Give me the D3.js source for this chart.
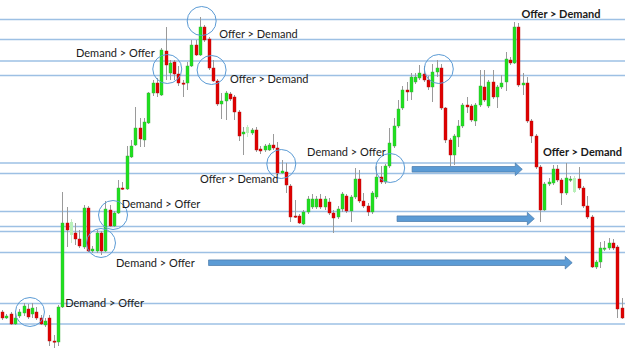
<!DOCTYPE html>
<html>
<head>
<meta charset="utf-8">
<script src="https://cdn.jsdelivr.net/npm/d3@7"></script>
<style>
  body { margin: 0; background: #fff; }
  svg { display: block; }
</style>
</head>
<body>
<svg id="chart" width="625" height="352"></svg>
<script>
// prices in pips above the chart floor
const opens = [
  40,34,38,28,36,39,43,38,40,34, 27,34,11,10,45,129,117,119,113,105,
  144,101,101,119,101,142,126,139,164,163, 195,207,224,212,229,259,269,257,301,279,
  290,278,269,269,286,307,297,325,313,284, 271,248,251,258,255,240,218,219,219,222,
  203,202,202,207,204,179,180,166,136,136, 128,140,145,145,153,145,150,139,135,143,
  156,141,155,173,151,146,140,155,175,170, 186,206,226,244,262,260,270,274,278,272,
  265,280,284,244,212,197,215,226,247,246, 231,247,265,246,270,255,265,270,292,289,
  325,267,269,231,216,185,142,168,169,183, 172,159,172,160,173,164,146,135,85,90,
  103,104,109,105,44
];
const highs = [
  42,38,40,39,43,49,48,49,45,37, 34,37,17,47,160,145,133,129,122,147,
  146,106,122,121,151,147,141,172,170,206, 212,245,234,234,260,272,274,304,325,292,
  292,286,272,290,312,312,335,327,315,292, 273,259,261,260,257,242,225,227,224,225,
  206,208,209,218,210,192,189,168,152,138, 142,156,158,156,158,156,154,142,146,160,
  158,157,184,182,159,149,161,186,186,188, 224,234,252,266,270,279,279,287,286,276,
  288,292,288,245,214,218,232,249,255,248, 249,282,282,272,282,267,277,300,295,330,
  329,279,275,233,218,187,170,174,187,187, 174,189,176,176,185,166,156,137,92,110,
  111,114,113,107,54
];
const lows = [
  32,33,27,27,34,36,33,34,32,27, 25,6,4,6,44,105,109,107,104,103,
  100,99,99,97,100,125,125,138,162,162, 194,206,205,205,228,256,255,256,272,272,
  272,266,255,262,285,296,296,310,282,270, 246,233,232,251,232,211,197,215,217,200,
  198,200,201,202,177,178,159,130,134,128, 127,138,143,143,143,142,137,119,133,140,
  139,130,153,149,144,136,138,153,168,168, 184,204,224,242,251,252,268,272,270,262,
  250,275,242,209,186,187,205,224,239,230, 226,245,250,244,253,244,263,261,287,288,
  265,257,229,209,183,130,141,166,167,170, 147,157,170,159,162,144,133,84,83,84,
  101,102,102,34,33
];
const closes = [
  34,36,28,34,40,46,35,44,34,28, 31,11,10,45,129,122,130,113,106,144,
  101,103,119,101,143,126,139,164,163,196, 206,224,213,230,259,269,259,302,287,289,
  278,269,268,286,307,297,325,312,284,271, 248,251,259,253,240,216,220,225,222,202,
  201,206,207,204,179,181,167,135,135,129, 140,153,153,153,145,153,139,134,143,158,
  141,155,173,151,146,140,159,175,170,186, 209,226,243,262,260,275,275,279,272,265,
  280,284,244,212,197,216,226,247,245,232, 247,266,252,270,255,265,269,293,289,325,
  267,269,231,216,185,142,168,170,183,172, 159,174,173,174,164,146,135,85,90,104,
  104,109,104,43,34
];
const faded = [16, 57, 133];

const levels = [332.5, 312.5, 291, 276.5, 189, 178.5, 140.5, 125.5, 120.5, 99.5, 48.5, 28];

const circleIdx = [6.5, 23, 25.8, 38.4, 46.4, 48.7, 64.9, 90.2, 101.5];
const circlePrice = [40, 109, 137, 283, 331, 282, 188, 184, 283];

const arrowFrom = [95.3, 91.8, 48];
const arrowTo = [120.9, 123.7, 132.5];
const arrowPrice = [182.7, 133.3, 89.3];

const noteText = [
  "Demand > Offer", "Offer > Demand", "Offer > Demand", "Offer > Demand",
  "Demand > Offer", "Offer > Demand", "Demand > Offer", "Offer > Demand",
  "Demand > Offer", "Demand > Offer"
];
const noteIdx = [17.2, 50.5, 53, 120.7, 27.8, 46, 70.9, 125.7, 26.5, 14.7];
const notePrice = [295, 314, 269, 334.5, 144, 169, 196.5, 196, 85.5, 45.5];
const noteBold = [false, false, false, true, false, false, false, true, false, false];

const W = 625, H = 352;
const svg = d3.select("#chart");

const x = d3.scaleLinear().domain([0, opens.length - 1]).range([2, 621.7]);
const y = d3.scaleLinear().domain([0, 352]).range([H, 0]);

const candles = opens.map((o, i) => ({
  i, o, h: highs[i], l: lows[i], c: closes[i], pale: faded.includes(i)
}));

// support / resistance lines
svg.append("g")
  .selectAll("line")
  .data(levels)
  .join("line")
  .attr("x1", 0).attr("x2", W)
  .attr("y1", d => y(d)).attr("y2", d => y(d))
  .attr("stroke", "#9dc0e4")
  .attr("stroke-width", 1.3);

// arrows
const arrowLine = d3.line();
svg.append("g")
  .selectAll("path")
  .data(arrowFrom.map((f, k) => ({ f, t: arrowTo[k], p: arrowPrice[k] })))
  .join("path")
  .attr("d", d => {
    const x0 = x(d.f), xt = x(d.t), yc = y(d.p), xh = xt - 7;
    return arrowLine([[x0, yc - 2.8], [xh, yc - 2.8], [xh, yc - 6.3], [xt, yc],
      [xh, yc + 6.3], [xh, yc + 2.8], [x0, yc + 2.8]]) + "Z";
  })
  .attr("fill", "#5b9bd5")
  .attr("stroke", "#4677a8")
  .attr("stroke-width", 0.7);

// candles
const bw = 3;
const cg = svg.append("g");
cg.selectAll("line")
  .data(candles)
  .join("line")
  .attr("x1", d => Math.round(x(d.i)) + 0.5).attr("x2", d => Math.round(x(d.i)) + 0.5)
  .attr("y1", d => y(d.h)).attr("y2", d => y(d.l))
  .attr("stroke", d => d.pale ? "#c8e8c8" : "#9a9a9a")
  .attr("stroke-width", 1);

cg.selectAll("rect")
  .data(candles)
  .join("rect")
  .attr("x", d => Math.round(x(d.i)) + 0.5 - bw / 2)
  .attr("width", bw)
  .attr("y", d => y(Math.max(d.o, d.c)))
  .attr("height", d => Math.max(1.2, Math.abs(y(d.o) - y(d.c))))
  .attr("fill", d => d.pale ? "#b8f0b8" : (d.c >= d.o ? "#1ee11e" : "#e00000"))
  .attr("stroke", d => d.pale ? "none" : (d.c >= d.o ? "#3aa83a" : "#b01010"))
  .attr("stroke-width", 0.4);

// circles
svg.append("g")
  .selectAll("circle")
  .data(circleIdx.map((ci, k) => ({ ci, p: circlePrice[k] })))
  .join("circle")
  .attr("cx", d => x(d.ci)).attr("cy", d => y(d.p))
  .attr("r", 14.5)
  .attr("fill", "none")
  .attr("stroke", "#5b9bd5")
  .attr("stroke-width", 1);

// notes
svg.append("g")
  .selectAll("text")
  .data(noteText.map((t, k) => ({ t, i: noteIdx[k], p: notePrice[k], b: noteBold[k] })))
  .join("text")
  .attr("x", d => x(d.i)).attr("y", d => y(d.p))
  .attr("font-family", "Lato, 'Open Sans', sans-serif")
  .attr("font-size", 11)
  .attr("font-weight", d => d.b ? 700 : 400)
  .attr("fill", "#1a1a1a")
  .text(d => d.t);
</script>
</body>
</html>
